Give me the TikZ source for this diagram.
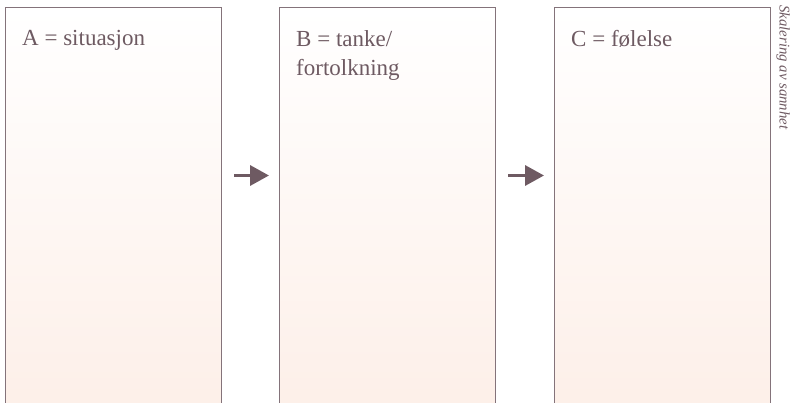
\documentclass[tikz,border=0pt]{standalone}
\usepackage{fontspec}
\setmainfont{Liberation Serif}
\usetikzlibrary{positioning,arrows.meta}

\definecolor{mauve}{HTML}{6E5A62}
\definecolor{peach}{HTML}{FDEFE8}

\begin{document}
\begin{tikzpicture}[
        x=1pt, y=-1pt,
        panel/.style={rectangle, draw=mauve!85, line width=1pt,
            top color=white, bottom color=peach,
            minimum width=216pt, minimum height=408pt, inner sep=0pt},
        heading/.style={anchor=north west, inner sep=0pt, text=mauve,
            align=left, font=\fontsize{23}{29}\selectfont},
        flow/.style={draw=mauve, line width=3.5pt,
            -{Triangle[length=19pt, width=20pt]},
            shorten <=12pt, shorten >=10pt}
    ]
    \useasboundingbox (0,0) rectangle (794,403);

    \node [panel, anchor=north west] (sitA) at (5,7) {};
    \node [panel, right=57pt of sitA] (tankB) {};
    \node [panel, right=58pt of tankB] (folC) {};

    \node [heading] (labA) at ([xshift=17pt,yshift=-23pt]sitA.north west) {A = situasjon};
    \node [heading] (labB) at ([xshift=17pt,yshift=-23pt]tankB.north west) {B = tanke/\\fortolkning};
    \node [heading] (labC) at ([xshift=17pt,yshift=-23pt]folC.north west) {C = følelse};

    \node [anchor=north west, rotate=-90, inner sep=0pt, text=mauve,
        font=\fontsize{14.8}{17}\selectfont\itshape] (skala) at (790,5) {Skalering av sannhet};

    \path [flow] ([yshift=36pt]sitA.east) -- ([yshift=36pt]tankB.west);
    \path [flow] ([yshift=36pt]tankB.east) -- ([yshift=36pt]folC.west);
\end{tikzpicture}
\end{document}
